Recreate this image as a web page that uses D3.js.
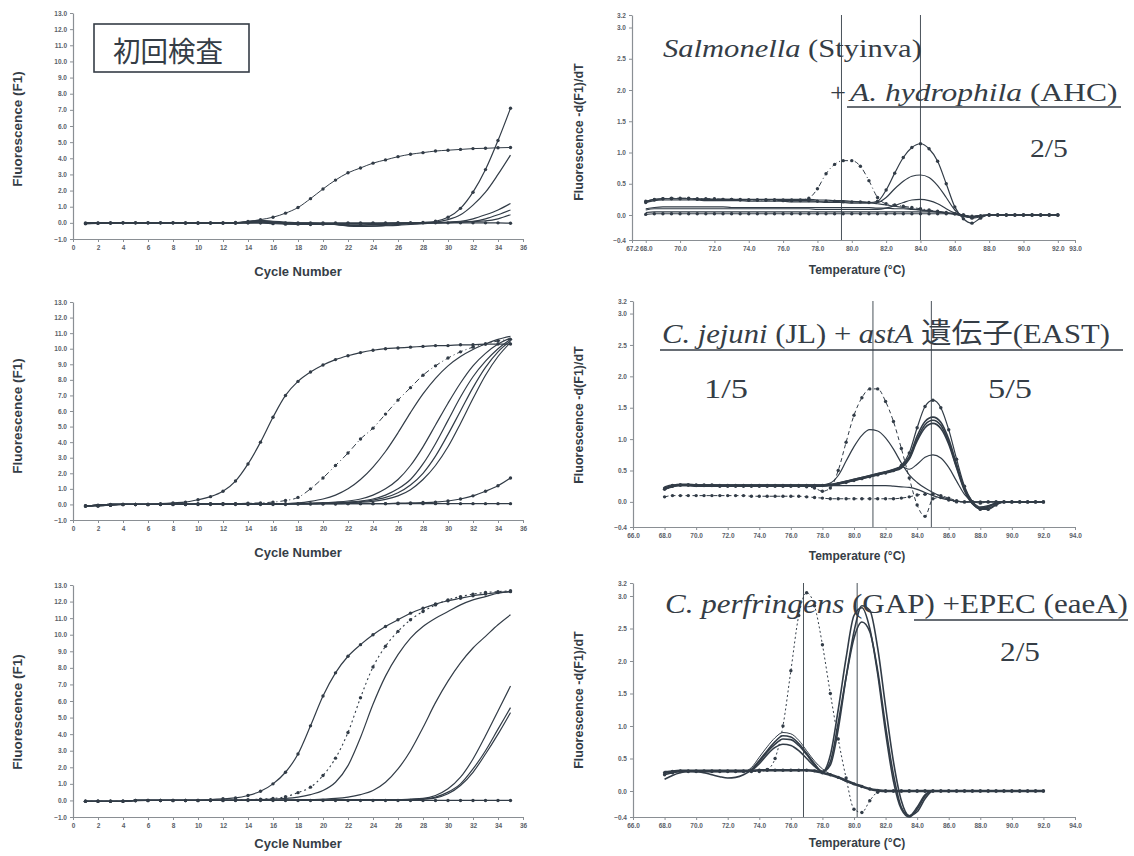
<!DOCTYPE html>
<html><head><meta charset="utf-8">
<script src="https://cdn.jsdelivr.net/npm/d3@7/dist/d3.min.js"></script>
<style>body{margin:0;background:#fff}svg{display:block}</style>
</head><body><svg id="c" width="1134" height="856"></svg>
<script>
// ---------------- DATA ----------------
const cycles = [1,2,3,4,5,6,7,8,9,10,11,12,13,14,15,16,17,18,19,20,21,22,23,24,25,26,27,28,29,30,31,32,33,34,35];
const ampXTicks = [0,2,4,6,8,10,12,14,16,18,20,22,24,26,28,30,32,34,36];
const ampYTicks = [-1,0,1,2,3,4,5,6,7,8,9,10,11,12,13];

// top-left (初回検査)
const tlA = [0,0,-0.02,0,0,0,0,0,0,0,0,0,0.02,0.08,0.2,0.35,0.6,0.95,1.5,2.1,2.65,3.1,3.4,3.7,3.9,4.1,4.25,4.35,4.45,4.5,4.55,4.6,4.62,4.65,4.67];
const tlB = [-0.05,-0.03,0,0,0,0,0,0,-0.02,-0.02,-0.02,-0.02,-0.02,0,0,-0.05,-0.08,-0.08,-0.1,-0.08,-0.05,-0.05,-0.05,-0.05,-0.03,0,0,0.02,0.1,0.35,0.9,1.9,3.3,5.1,7.1];
const tlC = [0,0,0,0,0,0,0,0,0,0,0,0,0,0.05,0.1,0.05,0,-0.05,-0.05,-0.05,-0.1,-0.15,-0.15,-0.12,-0.1,-0.05,0,0.02,0.05,0.2,0.5,1.1,1.9,3.0,4.2];
const tlD = [0,0,0,0,0,0,0,0,0,0,0,0,0,0.1,0.15,0.1,0.05,0,0,-0.05,-0.1,-0.2,-0.22,-0.2,-0.15,-0.1,-0.05,0,0.02,0.05,0.1,0.25,0.5,0.8,1.2];
const tlE = [0,0,0,0,0,0,0,0,0,0,0,0,0,0.05,0.1,0.05,-0.05,-0.1,-0.1,-0.1,-0.1,-0.15,-0.2,-0.2,-0.18,-0.15,-0.1,-0.05,0,0.02,0.05,0.1,0.25,0.5,0.8];
const tlF = [0,0,0,0,0,0,0,0,0,0,0,0,0,0,0.05,0,-0.05,-0.08,-0.1,-0.1,-0.1,-0.12,-0.12,-0.1,-0.08,-0.05,-0.02,0,0,0.02,0.05,0.08,0.12,0.25,0.5];
const tlG = [-0.05,-0.02,0,0,0,0,0,0,0,0,0,0,0,0,0,0,0,0,0,0,0,0,0,0,0,0,0,0,0,0,0,0,0,0,-0.02];

// middle-left
const mlA = [-0.1,-0.1,-0.05,0,0,0,0.05,0.1,0.15,0.3,0.5,0.85,1.5,2.6,4.0,5.6,7.0,7.9,8.5,8.95,9.3,9.55,9.75,9.9,10.0,10.05,10.1,10.15,10.2,10.2,10.25,10.25,10.3,10.3,10.3];
const mlB = [-0.1,-0.1,-0.05,0,0,0,0,0,0,0.02,0.05,0.05,0.05,0.08,0.1,0.15,0.25,0.45,1.0,1.7,2.5,3.3,4.2,4.9,5.8,6.7,7.5,8.3,8.9,9.4,9.8,10.1,10.3,10.5,10.6];
const mlC = [-0.1,-0.05,0,0,0,0,0,0,0,0,0,0,0,0,0.02,0.05,0.05,0.1,0.2,0.35,0.6,1.0,1.6,2.4,3.4,4.6,5.9,7.1,8.1,8.9,9.5,9.95,10.3,10.6,10.8];
const mlD = [-0.1,-0.05,0,0,0,0,0,0,0,0,0,0,0,0,0.02,0.03,0.05,0.05,0.08,0.1,0.15,0.22,0.35,0.6,1.0,1.6,2.5,3.7,5.1,6.5,7.8,8.9,9.7,10.3,10.7];
const mlE = [-0.1,-0.05,0,0,0,0,0,0,0,0,0,0,0,0,0.02,0.03,0.05,0.05,0.06,0.08,0.1,0.15,0.22,0.35,0.6,1.0,1.6,2.6,3.9,5.4,6.9,8.2,9.2,10.0,10.6];
const mlF = [-0.1,-0.05,0,0,0,0,0,0,0,0,0,0,0,0,0.02,0.03,0.05,0.05,0.06,0.07,0.08,0.12,0.18,0.28,0.45,0.75,1.25,2.0,3.1,4.5,6.0,7.5,8.8,9.8,10.5];
const mlG = [-0.1,-0.05,0,0,0,0,0,0,0,0,0,0,0,0,0.02,0.03,0.05,0.05,0.06,0.07,0.08,0.1,0.14,0.2,0.32,0.55,0.95,1.6,2.5,3.7,5.2,6.8,8.3,9.5,10.4];
const mlH = [-0.1,-0.05,0,0,0,0,0,0,0,0,0,0,0,0,0,0,0,0.02,0.02,0.03,0.03,0.05,0.05,0.05,0.05,0.08,0.1,0.12,0.15,0.22,0.35,0.55,0.85,1.2,1.7];
const mlI = [-0.1,-0.08,-0.05,0,0,0,0.02,0.03,0.03,0.05,0.05,0.05,0.05,0.05,0.05,0.05,0.05,0.05,0.05,0.05,0.05,0.05,0.05,0.05,0.05,0.05,0.05,0.05,0.05,0.05,0.05,0.05,0.05,0.05,0.05];

// bottom-left
const blA = [-0.05,-0.05,-0.05,-0.05,0,0,0,0,0,0,0.05,0.1,0.15,0.3,0.55,1.0,1.7,2.8,4.5,6.3,7.7,8.7,9.4,10.0,10.5,10.9,11.3,11.6,11.85,12.05,12.2,12.35,12.45,12.55,12.6];
const blB = [-0.05,-0.05,-0.05,-0.05,0,0,0,0,0,0,0,0,0.02,0.05,0.08,0.12,0.22,0.47,0.8,1.5,2.55,4.1,6.2,8.05,9.3,10.2,10.9,11.4,11.8,12.1,12.3,12.45,12.55,12.6,12.65];
const blC = [-0.05,-0.05,-0.05,-0.05,0,0,0,0,0,0,0,0,0.02,0.03,0.05,0.08,0.12,0.2,0.35,0.6,1.1,2.1,3.8,5.8,7.5,8.8,9.8,10.5,11.0,11.4,11.8,12.1,12.3,12.5,12.6];
const blD = [-0.05,-0.05,-0.05,-0.05,0,0,0,0,0,0,0,0,0,0,0.02,0.02,0.03,0.05,0.05,0.08,0.12,0.2,0.35,0.6,1.1,1.9,3.0,4.4,5.9,7.2,8.3,9.2,9.9,10.6,11.2];
const blE = [-0.05,-0.05,-0.05,-0.05,0,0,0,0,0,0,0,0,0,0,0,0,0,0,0.02,0.02,0.03,0.03,0.05,0.05,0.05,0.05,0.08,0.12,0.3,0.7,1.4,2.5,3.9,5.4,6.9];
const blF = [-0.05,-0.05,-0.05,-0.05,0,0,0,0,0,0,0,0,0,0,0,0,0,0,0.02,0.02,0.03,0.03,0.05,0.05,0.05,0.05,0.05,0.08,0.2,0.5,1.0,1.9,3.0,4.3,5.6];
const blG = [-0.05,-0.05,-0.05,-0.05,0,0,0,0,0,0,0,0,0,0,0,0,0,0,0.02,0.02,0.03,0.03,0.05,0.05,0.05,0.05,0.05,0.07,0.15,0.4,0.9,1.7,2.8,4.0,5.3];
const blH = [-0.05,-0.05,-0.05,-0.05,-0.02,0,0,0,0,0,0,0,0,0,0,0,0,0,0,0,0,0,0,0,0,0,0,0,0,0,0,0,0,0,0];

// melting curves, temperature grid (°C)
const temps = [68,68.5,69,69.5,70,70.5,71,71.5,72,72.5,73,73.5,74,74.5,75,75.5,76,76.5,77,77.5,78,78.5,79,79.5,80,80.5,81,81.5,82,82.5,83,83.5,84,84.5,85,85.5,86,86.5,87,87.5,88,88.5,89,89.5,90,90.5,91,91.5,92];
const meltYTicks = [-0.4,0,0.5,1,1.5,2,2.5,3,3.2];
const trXTicks = [67.2,68,70,72,74,76,78,80,82,84,86,88,90,92,93];
const mXTicks = [66,68,70,72,74,76,78,80,82,84,86,88,90,92,94];

// top-right: Salmonella + A. hydrophila
const trDash = [0.20,0.24,0.26,0.27,0.27,0.27,0.26,0.26,0.26,0.25,0.25,0.25,0.24,0.24,0.24,0.24,0.24,0.24,0.24,0.27,0.42,0.66,0.81,0.87,0.87,0.78,0.55,0.28,0.18,0.16,0.14,0.12,0.10,0.08,0.06,0.04,0.02,0.0,-0.02,-0.01,0,0,0,0,0,0,0,0,0];
const trPos1 = [0.22,0.25,0.26,0.26,0.26,0.26,0.25,0.25,0.25,0.25,0.25,0.24,0.24,0.24,0.24,0.24,0.23,0.23,0.23,0.23,0.22,0.22,0.22,0.21,0.21,0.21,0.20,0.22,0.40,0.67,0.92,1.08,1.14,1.06,0.86,0.50,0.13,-0.06,-0.13,-0.05,0,0,0,0,0,0,0,0,0];
const trPos2 = [0.2,0.23,0.24,0.24,0.24,0.24,0.24,0.23,0.23,0.23,0.23,0.23,0.22,0.22,0.22,0.22,0.22,0.21,0.21,0.21,0.21,0.2,0.2,0.2,0.19,0.19,0.19,0.2,0.28,0.42,0.54,0.62,0.64,0.6,0.47,0.28,0.08,-0.02,-0.04,-0.01,0,0,0,0,0,0,0,0,0];
const trPos3 = [0.08,0.1,0.1,0.1,0.1,0.1,0.1,0.1,0.1,0.1,0.1,0.1,0.1,0.1,0.1,0.1,0.1,0.1,0.1,0.1,0.09,0.09,0.09,0.09,0.09,0.09,0.09,0.09,0.11,0.15,0.2,0.24,0.25,0.23,0.18,0.1,0.03,-0.02,-0.04,-0.01,0,0,0,0,0,0,0,0,0];
const trNeg1 = [0.1,0.12,0.13,0.13,0.13,0.13,0.13,0.13,0.13,0.13,0.12,0.12,0.12,0.12,0.12,0.12,0.12,0.12,0.12,0.12,0.12,0.12,0.12,0.12,0.12,0.12,0.12,0.11,0.11,0.1,0.1,0.09,0.08,0.07,0.05,0.03,0.01,-0.02,-0.03,-0.01,0,0,0,0,0,0,0,0,0];
const trNeg2 = [0.01,0.02,0.02,0.02,0.02,0.02,0.02,0.02,0.02,0.02,0.02,0.02,0.02,0.02,0.02,0.02,0.02,0.02,0.02,0.02,0.02,0.02,0.02,0.02,0.02,0.02,0.02,0.02,0.02,0.02,0.02,0.02,0.02,0.02,0.02,0.02,0.02,0.0,-0.05,-0.03,0,0,0,0,0,0,0,0,0];
const trNeg3 = [0.22,0.25,0.26,0.26,0.26,0.26,0.26,0.26,0.25,0.25,0.25,0.25,0.25,0.25,0.25,0.25,0.25,0.25,0.25,0.25,0.24,0.24,0.23,0.23,0.22,0.21,0.2,0.18,0.16,0.14,0.12,0.1,0.08,0.06,0.05,0.03,0.02,0.0,-0.02,-0.01,0,0,0,0,0,0,0,0,0];
const trNeg4 = [0.04,0.05,0.05,0.05,0.05,0.05,0.05,0.05,0.05,0.05,0.05,0.05,0.05,0.05,0.05,0.05,0.05,0.05,0.05,0.05,0.05,0.05,0.05,0.05,0.05,0.05,0.05,0.05,0.05,0.05,0.05,0.05,0.05,0.05,0.05,0.04,0.02,0.0,-0.03,-0.01,0,0,0,0,0,0,0,0,0];
const trMarkers = [79.4, 84.0];

// middle-right: C. jejuni + astA
const mrDash = [0.22,0.26,0.27,0.27,0.26,0.26,0.26,0.25,0.25,0.25,0.25,0.25,0.25,0.25,0.25,0.25,0.25,0.25,0.24,0.22,0.17,0.22,0.5,0.95,1.38,1.66,1.8,1.8,1.6,1.28,0.85,0.38,-0.05,-0.23,0.05,0.07,0.03,0.0,0.0,0.0,-0.02,0,0,0,0,0,0,0,0];
const mrPos1 = [0.24,0.27,0.27,0.27,0.27,0.27,0.27,0.27,0.27,0.27,0.27,0.27,0.27,0.27,0.27,0.27,0.27,0.27,0.27,0.27,0.27,0.3,0.42,0.65,0.88,1.06,1.15,1.13,1.02,0.84,0.62,0.43,0.31,0.22,0.15,0.09,0.04,0.01,0,0,0,0,0,0,0,0,0,0,0];
const mrPosA = [0.2,0.25,0.27,0.27,0.27,0.27,0.27,0.26,0.26,0.26,0.26,0.26,0.26,0.26,0.26,0.26,0.26,0.26,0.26,0.26,0.26,0.27,0.29,0.31,0.34,0.37,0.4,0.43,0.46,0.5,0.58,0.78,1.18,1.52,1.62,1.5,1.15,0.68,0.25,0.0,-0.12,-0.12,-0.05,0,0,0,0,0,0];
const mrPosB = [0.22,0.26,0.28,0.28,0.27,0.27,0.27,0.27,0.27,0.27,0.27,0.27,0.27,0.27,0.27,0.27,0.27,0.27,0.27,0.27,0.27,0.28,0.3,0.33,0.36,0.39,0.42,0.45,0.48,0.51,0.57,0.72,1.05,1.28,1.35,1.27,1.0,0.6,0.22,0.0,-0.1,-0.1,-0.04,0,0,0,0,0,0];
const mrPosC = [0.21,0.25,0.27,0.27,0.26,0.26,0.26,0.26,0.26,0.26,0.26,0.26,0.26,0.26,0.26,0.26,0.26,0.26,0.26,0.26,0.26,0.27,0.29,0.32,0.35,0.38,0.41,0.44,0.47,0.5,0.56,0.7,1.0,1.23,1.3,1.22,0.95,0.56,0.2,-0.02,-0.11,-0.08,-0.02,0,0,0,0,0,0];
const mrPosD = [0.2,0.24,0.26,0.26,0.25,0.25,0.25,0.25,0.25,0.25,0.25,0.25,0.25,0.25,0.25,0.25,0.25,0.25,0.25,0.25,0.25,0.26,0.28,0.31,0.34,0.37,0.4,0.43,0.46,0.49,0.54,0.68,0.97,1.18,1.25,1.17,0.92,0.54,0.18,-0.03,-0.1,-0.07,-0.02,0,0,0,0,0,0];
const mrPosE = [0.21,0.25,0.27,0.27,0.26,0.26,0.26,0.26,0.26,0.26,0.26,0.26,0.26,0.26,0.26,0.26,0.26,0.26,0.26,0.26,0.26,0.27,0.3,0.33,0.36,0.39,0.42,0.45,0.48,0.52,0.56,0.52,0.6,0.71,0.75,0.7,0.55,0.33,0.12,0.0,-0.08,-0.06,-0.02,0,0,0,0,0,0];
const mrLow = [0.08,0.1,0.1,0.1,0.1,0.1,0.1,0.1,0.1,0.1,0.1,0.09,0.09,0.09,0.09,0.09,0.09,0.09,0.08,0.07,0.06,0.05,0.05,0.05,0.05,0.05,0.05,0.05,0.05,0.05,0.06,0.08,0.11,0.12,0.12,0.1,0.06,0.02,0,0,0,0,0,0,0,0,0,0,0];
const mrNeg = [0.2,0.25,0.26,0.26,0.26,0.26,0.26,0.26,0.26,0.26,0.26,0.26,0.26,0.26,0.26,0.26,0.26,0.26,0.26,0.26,0.26,0.26,0.26,0.26,0.26,0.26,0.26,0.26,0.26,0.25,0.24,0.23,0.2,0.15,0.1,0.06,0.03,0.01,0,0,0,0,0,0,0,0,0,0,0];
const mrMarkers = [81.2, 84.9];

// bottom-right: C. perfringens + EPEC
const brDash = [0.25,0.28,0.3,0.3,0.3,0.3,0.3,0.3,0.3,0.3,0.3,0.3,0.3,0.33,0.5,1.0,1.85,2.7,3.05,2.85,2.25,1.5,0.8,0.2,-0.28,-0.33,-0.15,-0.02,0,0,0,0,0,0,0,0,0,0,0,0,0,0,0,0,0,0,0,0,0];
const brS1 = [0.18,0.24,0.28,0.3,0.3,0.28,0.25,0.22,0.2,0.21,0.25,0.33,0.47,0.62,0.76,0.85,0.83,0.73,0.58,0.42,0.3,0.55,1.25,2.05,2.7,2.82,2.5,1.8,0.9,0.15,-0.28,-0.4,-0.28,-0.08,0,0,0,0,0,0,0,0,0,0,0,0,0,0,0];
const brS2 = [0.25,0.28,0.3,0.3,0.3,0.3,0.3,0.3,0.3,0.3,0.3,0.33,0.45,0.6,0.72,0.8,0.79,0.7,0.56,0.4,0.3,0.4,0.95,1.75,2.45,2.85,2.78,2.2,1.3,0.45,-0.15,-0.38,-0.32,-0.12,0,0,0,0,0,0,0,0,0,0,0,0,0,0,0];
const brS3 = [0.3,0.3,0.31,0.31,0.3,0.3,0.3,0.3,0.3,0.3,0.3,0.32,0.42,0.56,0.67,0.72,0.7,0.62,0.5,0.38,0.3,0.45,1.05,1.75,2.35,2.6,2.45,1.85,1.0,0.25,-0.25,-0.38,-0.25,-0.06,0,0,0,0,0,0,0,0,0,0,0,0,0,0,0];
const brHump = [0.3,0.3,0.3,0.3,0.3,0.3,0.3,0.3,0.3,0.3,0.3,0.36,0.52,0.68,0.82,0.9,0.88,0.78,0.62,0.46,0.34,0.26,0.2,0.15,0.1,0.06,0.03,0.01,0,0,0,0,0,0,0,0,0,0,0,0,0,0,0,0,0,0,0,0,0];
const brThick = [0.28,0.3,0.31,0.31,0.31,0.31,0.31,0.31,0.31,0.31,0.31,0.31,0.32,0.32,0.32,0.32,0.32,0.32,0.32,0.31,0.28,0.25,0.21,0.16,0.11,0.07,0.03,0.01,0,0,0,0,0,0,0,0,0,0,0,0,0,0,0,0,0,0,0,0,0];
const brMarkers = [76.8, 80.2];

// ---------------- DRAWING ----------------
const svg = d3.select('#c');
const INK = '#323c47';
const AXIS = '#8a8f94';
const TXT = '#353d46';
const SANS = "'Liberation Sans', Arial, sans-serif";
const SERIF = "'Liberation Serif', 'Noto Sans CJK JP', serif";

function styleAxis(g) {
  g.select('.domain').attr('stroke', AXIS).attr('stroke-width', 1.2);
  g.selectAll('.tick line').attr('stroke', AXIS);
  g.selectAll('.tick text').attr('fill', '#5a6068').attr('font-size', 6.5)
    .attr('font-family', SANS).attr('font-weight', 'bold');
}

function drawSeries(g, xs, x, y, list) {
  list.forEach(s => {
    const pts = s.v.map((v, i) => [xs[i], v]);
    const line = d3.line().x(d => x(d[0])).y(d => y(d[1])).curve(d3.curveMonotoneX);
    g.append('path').attr('d', line(pts)).attr('fill', 'none')
      .attr('stroke', INK).attr('stroke-width', s.w || 1.2)
      .attr('stroke-dasharray', s.dash || null).attr('stroke-linejoin', 'round');
    if (s.dots) {
      g.selectAll(null).data(pts).join('circle')
        .attr('cx', d => x(d[0])).attr('cy', d => y(d[1])).attr('r', 1.7).attr('fill', INK);
    }
  });
}

function ampPanel(top, bottom, series, xLabelY, yLabelY) {
  const x = d3.scaleLinear().domain([0, 36]).range([73, 523]);
  const y = d3.scaleLinear().domain([-1, 13]).range([bottom, top]);
  const g = svg.append('g');
  g.append('g').attr('transform', `translate(73,0)`)
    .call(d3.axisLeft(y).tickValues(ampYTicks).tickFormat(d3.format('.1f')).tickSize(3).tickSizeOuter(0)).call(styleAxis);
  g.append('g').attr('transform', `translate(0,${bottom})`)
    .call(d3.axisBottom(x).tickValues(ampXTicks).tickFormat(d3.format('d')).tickSize(3).tickSizeOuter(0)).call(styleAxis);
  drawSeries(g, cycles, x, y, series);
  g.append('text').attr('x', 298).attr('y', xLabelY).attr('text-anchor', 'middle')
    .attr('font-family', SANS).attr('font-weight', 'bold').attr('font-size', 13).attr('fill', TXT).text('Cycle Number');
  g.append('text').attr('transform', `translate(22,${yLabelY}) rotate(-90)`).attr('text-anchor', 'middle')
    .attr('font-family', SANS).attr('font-weight', 'bold').attr('font-size', 13.5).attr('fill', TXT).text('Fluorescence (F1)');
}

function meltPanel(dom, xr, top, bottom, xTicks, series, markers, xLabelY, yLabelY) {
  const x = d3.scaleLinear().domain(dom).range(xr);
  const y = d3.scaleLinear().domain([-0.4, 3.2]).range([bottom, top]);
  const g = svg.append('g');
  g.append('g').attr('transform', `translate(${xr[0]},0)`)
    .call(d3.axisLeft(y).tickValues(meltYTicks).tickFormat(d3.format('.1f')).tickSize(3).tickSizeOuter(0)).call(styleAxis);
  g.append('g').attr('transform', `translate(0,${bottom})`)
    .call(d3.axisBottom(x).tickValues(xTicks).tickFormat(d3.format('.1f')).tickSize(3).tickSizeOuter(0)).call(styleAxis);
  g.selectAll(null).data(markers).join('line')
    .attr('x1', d => x(d)).attr('x2', d => x(d)).attr('y1', y(3.2)).attr('y2', bottom)
    .attr('stroke', '#4a525a').attr('stroke-width', 1);
  drawSeries(g, temps, x, y, series);
  g.append('text').attr('x', 857).attr('y', xLabelY).attr('text-anchor', 'middle')
    .attr('font-family', SANS).attr('font-weight', 'bold').attr('font-size', 12).attr('fill', TXT).text('Temperature (°C)');
  g.append('text').attr('transform', `translate(583,${yLabelY}) rotate(-90)`).attr('text-anchor', 'middle')
    .attr('font-family', SANS).attr('font-weight', 'bold').attr('font-size', 12.5).attr('fill', TXT).text('Fluorescence -d(F1)/dT');
}

// amplification panels
ampPanel(13, 239, [
  {v: tlG, dots: true}, {v: tlF}, {v: tlE}, {v: tlD}, {v: tlC},
  {v: tlB, dots: true}, {v: tlA, dots: true, w: 1}
], 276, 129);
ampPanel(302, 520, [
  {v: mlI, dots: true}, {v: mlH, dots: true}, {v: mlG}, {v: mlF}, {v: mlE}, {v: mlD}, {v: mlC},
  {v: mlB, dots: true, dash: '6,3,1,3', w: 1}, {v: mlA, dots: true}
], 557, 416);
ampPanel(585, 817, [
  {v: blH, dots: true}, {v: blG}, {v: blF}, {v: blE}, {v: blD}, {v: blC},
  {v: blB, dots: true, dash: '2,3', w: 1.1}, {v: blA, dots: true}
], 848, 712);

// melt panels
meltPanel([67.2, 93.0], [632, 1075], 15, 240, trXTicks, [
  {v: trNeg2, dots: true}, {v: trNeg4}, {v: trNeg1}, {v: trPos3}, {v: trNeg3},
  {v: trPos2}, {v: trPos1, dots: true}, {v: trDash, dots: true, dash: '5,3,1,3', w: 1}
], trMarkers, 274, 132);
meltPanel([66, 94], [633, 1075], 301, 527, mXTicks, [
  {v: mrLow, dots: true, dash: '4,3', w: 1}, {v: mrNeg}, {v: mrPosE}, {v: mrPosD, w: 1.6}, {v: mrPosC, w: 1.6},
  {v: mrPosB, w: 1.6}, {v: mrPos1}, {v: mrPosA, dots: true}, {v: mrDash, dots: true, dash: '4,3', w: 1}
], mrMarkers, 560, 415);
meltPanel([66, 94], [633, 1075], 583, 817, mXTicks, [
  {v: brThick, dots: true, w: 2.6}, {v: brHump, w: 1}, {v: brS3, w: 1.6}, {v: brS2, w: 1.6}, {v: brS1, w: 1.6},
  {v: brDash, dots: true, dash: '2,2.5', w: 1}
], brMarkers, 847, 700);

// ---------------- ANNOTATIONS ----------------
function fitted(x, y, width, build) {
  const g = svg.append('g');
  const t = g.append('text').attr('font-family', SERIF).attr('fill', TXT);
  build(t);
  const w = t.node().getBBox().width;
  g.attr('transform', `translate(${x},${y}) scale(${width / w},1)`);
  return g;
}

// 初回検査 box
svg.append('rect').attr('x', 94).attr('y', 24).attr('width', 155).attr('height', 48)
  .attr('fill', 'none').attr('stroke', TXT).attr('stroke-width', 1.6);
fitted(113, 62, 110, t => t.attr('font-size', 28).attr('font-family', "'Noto Sans CJK JP', sans-serif").attr('font-weight', 400).text('初回検査'));

// top-right titles
fitted(663, 57, 259, t => {
  t.attr('font-size', 26);
  t.append('tspan').attr('font-style', 'italic').text('Salmonella');
  t.append('tspan').text(' (Styinva)');
});
fitted(830, 101, 16, t => t.attr('font-size', 26).text('+'));
fitted(850, 101, 270, t => {
  t.attr('font-size', 26);
  t.append('tspan').attr('font-style', 'italic').text('A. hydrophila');
  t.append('tspan').text(' (AHC)');
});
svg.append('line').attr('x1', 847).attr('x2', 1121).attr('y1', 107).attr('y2', 107).attr('stroke', TXT).attr('stroke-width', 1.5);
fitted(1030, 157, 38, t => t.attr('font-size', 26).text('2/5'));

// middle-right titles
fitted(662, 343, 448, t => {
  t.attr('font-size', 28);
  t.append('tspan').attr('font-style', 'italic').text('C. jejuni');
  t.append('tspan').text(' (JL) + ');
  t.append('tspan').attr('font-style', 'italic').text('astA');
  t.append('tspan').text(' 遺伝子(EAST)');
});
svg.append('line').attr('x1', 660).attr('x2', 1123).attr('y1', 350).attr('y2', 350).attr('stroke', TXT).attr('stroke-width', 1.5);
fitted(704, 398, 44, t => t.attr('font-size', 27).text('1/5'));
fitted(988, 398, 44, t => t.attr('font-size', 27).text('5/5'));

// bottom-right titles
fitted(665, 613, 463, t => {
  t.attr('font-size', 28);
  t.append('tspan').attr('font-style', 'italic').text('C. perfringens');
  t.append('tspan').text(' (GAP) +EPEC (eaeA)');
});
svg.append('line').attr('x1', 914).attr('x2', 1128).attr('y1', 620).attr('y2', 620).attr('stroke', TXT).attr('stroke-width', 1.5);
fitted(1000, 661, 40, t => t.attr('font-size', 27).text('2/5'));
</script>
</body></html>
